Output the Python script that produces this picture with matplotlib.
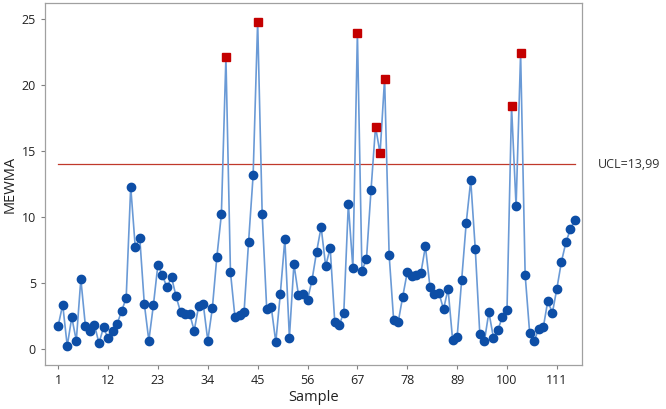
import matplotlib
matplotlib.use("Agg")
import matplotlib.pyplot as plt
import matplotlib.transforms as mtransforms
import numpy as np

plt.rcParams['font.family'] = ['Open Sans', 'DejaVu Sans']

mewma = [1.77, 3.36, 0.25, 2.4, 0.65, 5.3, 1.77, 1.4, 1.84, 0.45,
         1.64, 0.83, 1.4, 1.9, 2.9, 3.86, 12.3, 7.73, 8.4, 3.43,
         0.65, 3.33, 6.39, 5.58, 4.67, 5.45, 4.0, 2.8, 2.65, 2.67,
         1.4, 3.28, 3.4, 0.65, 3.08, 6.97, 10.2, 22.1, 5.83, 2.4,
         2.55, 2.8, 8.13, 13.15, 24.8, 10.2, 3.03, 3.18, 0.53, 4.19,
         8.33, 0.88, 6.44, 4.09, 4.17, 3.73, 5.25, 7.37, 9.24, 6.29,
         7.65, 2.09, 1.84, 2.77, 10.98, 6.14, 23.96, 5.93, 6.82, 12.02,
         16.84, 14.82, 20.48, 7.14, 2.17, 2.05, 3.98, 5.83, 5.55, 5.6,
         5.76, 7.77, 4.74, 4.14, 4.24, 3.03, 4.55, 0.7, 0.91, 5.25,
         9.55, 12.77, 7.58, 1.14, 0.58, 2.8, 0.88, 1.46, 2.47, 2.98,
         18.38, 10.8, 22.4, 5.63, 1.21, 0.65, 1.52, 1.64, 3.66, 2.73,
         4.59, 6.61, 8.1, 9.09, 9.8]
ucl = 13.99
x_ticks = [1, 12, 23, 34, 45, 56, 67, 78, 89, 100, 111]
y_ticks = [0, 5, 10, 15, 20, 25]

samples = np.arange(1, len(mewma) + 1)
vals = np.array(mewma)
out = vals > ucl

fig = plt.figure(figsize=(6.66, 4.09), dpi=100)
ax = fig.add_axes([0.0676, 0.1076, 0.806, 0.885])

ax.plot(samples, vals, color='#6a9ad6', lw=1.2, zorder=2)
ax.plot(samples[~out], vals[~out], 'o', color='#0d4ea6', ms=6, mec='#0d4ea6', zorder=3)
ax.plot(samples[out], vals[out], 's', color='#c40000', ms=5.5, mec='#c40000', zorder=4)

ax.plot([samples[0], samples[-1]], [ucl, ucl], color='#c0392b', lw=0.9, zorder=1)
trans = mtransforms.blended_transform_factory(ax.transAxes, ax.transData)
ax.text(1.03, ucl, 'UCL=13,99', transform=trans, va='center', ha='left',
        fontsize=9, color='#333333', clip_on=False)

ax.set_xlim(-1.9, 116.5)
ax.set_ylim(-1.2, 26.2)
ax.set_xticks(x_ticks)
ax.set_yticks(y_ticks)
ax.tick_params(labelsize=9, length=3, color='#808080', labelcolor='#222222')
for s in ax.spines.values():
    s.set_color('#a0a0a0')
    s.set_linewidth(0.9)

ax.set_xlabel('Sample', fontsize=10.5, color='#222222', labelpad=2)
ax.set_ylabel('MEWMA', fontsize=10.5, color='#222222', labelpad=3)

fig.savefig('out.png', dpi=100)
